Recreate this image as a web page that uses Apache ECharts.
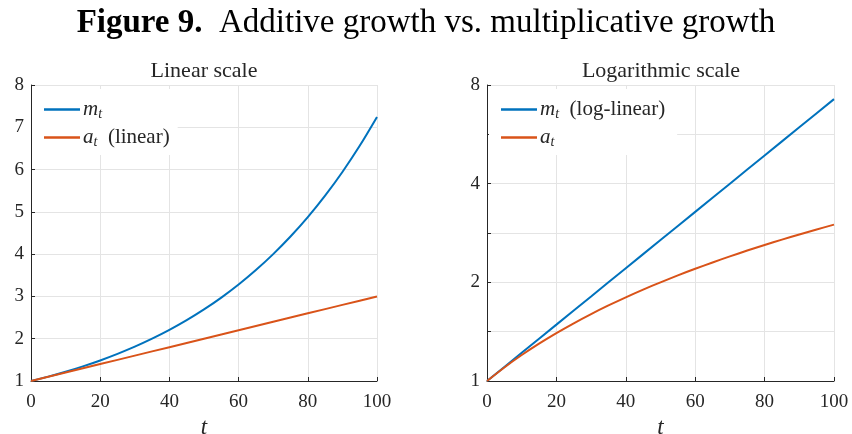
<!DOCTYPE html>
<html><head><meta charset="utf-8">
<script src="https://cdn.jsdelivr.net/npm/echarts@6/dist/echarts.min.js"></script>
<style>html,body{margin:0;padding:0;background:#fff}#c{width:852px;height:434px}</style>
</head><body><div id="c"></div>
<script>
var tValues = [0,5,10,15,20,25,30,35,40,45,50,55,60,65,70,75,80,85,90,95,100];
var mValues = [1,1.104,1.219,1.346,1.486,1.641,1.811,2.000,2.208,2.438,2.692,2.972,3.281,3.623,4.000,4.416,4.875,5.383,5.943,6.562,7.245];
var aValues = [1,1.1,1.2,1.3,1.4,1.5,1.6,1.7,1.8,1.9,2.0,2.1,2.2,2.3,2.4,2.5,2.6,2.7,2.8,2.9,3.0];
var xTicks = [0,20,40,60,80,100];
var yLinTicks = [1,2,3,4,5,6,7,8];
var yLogTicks = [1,2,4,8];

var FONT = 'Liberation Serif';
var TXT = '#262626';
var GRIDC = '#e4e4e4';
var BLUE = '#0072BD', ORANGE = '#D95319';

function pairs(ys){ return tValues.map(function(t,i){return [t, ys[i]];}); }

var rich = {
  i: {fontFamily: FONT, fontStyle: 'italic', fontSize: 21, color: TXT},
  s: {fontFamily: FONT, fontStyle: 'italic', fontSize: 14, color: TXT, padding: [9,0,0,0]},
  n: {fontFamily: FONT, fontSize: 21, color: TXT}
};
function legendFmt(name){
  var map = {
    'm_t': '{i|m}{s|t}',
    'a_t (linear)': '{i|a}{s|t}{n|  (linear)}',
    'm_t (log-linear)': '{i|m}{s|t}{n|  (log-linear)}',
    'a_t': '{i|a}{s|t}'
  };
  return map[name];
}

function xAxis(g){
  return {
    type: 'value', gridIndex: g, min: 0, max: 100, interval: 20,
    name: 't', nameLocation: 'middle', nameGap: 33,
    nameTextStyle: {fontFamily: FONT, fontStyle: 'italic', fontSize: 23, color: TXT},
    axisLine: {show: true, lineStyle: {color: TXT, width: 1}},
    axisTick: {show: true, inside: true, length: 4, lineStyle: {color: TXT}},
    axisLabel: {fontFamily: FONT, fontSize: 19, color: TXT, margin: 12,
      formatter: function(v){ return xTicks.indexOf(v) >= 0 ? String(v) : ''; }},
    splitLine: {show: true, lineStyle: {color: GRIDC, width: 1}}
  };
}

var option = {
  animation: false,
  backgroundColor: '#fff',
  title: [
    {text: '{b|Figure 9.}{r|  Additive growth vs. multiplicative growth}', left: 'center', top: 2,
     textStyle: {fontWeight: 'normal', rich: {
       b: {fontFamily: FONT, fontWeight: 'bold', fontSize: 33, color: '#000'},
       r: {fontFamily: FONT, fontWeight: 'normal', fontSize: 33, color: '#000'}}}},
    {text: 'Linear scale', left: 199, top: 55, textAlign: 'center',
     textStyle: {fontFamily: FONT, fontWeight: 'normal', fontSize: 22, color: TXT}},
    {text: 'Logarithmic scale', left: 656, top: 55, textAlign: 'center',
     textStyle: {fontFamily: FONT, fontWeight: 'normal', fontSize: 22, color: TXT}}
  ],
  grid: [
    {left: 31, right: 475, top: 85, bottom: 53, outerBoundsMode: 'none', containLabel: false},
    {left: 487, right: 18, top: 85, bottom: 53, outerBoundsMode: 'none', containLabel: false}
  ],
  legend: [
    {data: ['m_t','a_t (linear)'], left: 32, top: 89, orient: 'vertical',
     icon: 'rect', itemWidth: 36, itemHeight: 2.5, itemGap: 6, selectedMode: false,
     backgroundColor: '#fff', padding: [10, 8, 6, 12],
     formatter: legendFmt, textStyle: {rich: rich, padding: [0,0,0,-2]}},
    {data: ['m_t (log-linear)','a_t'], left: 489, top: 89, orient: 'vertical',
     icon: 'rect', itemWidth: 36, itemHeight: 2.5, itemGap: 6, selectedMode: false,
     backgroundColor: '#fff', padding: [10, 12, 6, 12],
     formatter: legendFmt, textStyle: {rich: rich, padding: [0,0,0,-2]}}
  ],
  xAxis: [xAxis(0), xAxis(1)],
  yAxis: [
    {type: 'value', gridIndex: 0, min: 1, max: 8, interval: 1,
     axisLine: {show: true, lineStyle: {color: TXT, width: 1}},
     axisTick: {show: true, inside: true, length: 4, lineStyle: {color: TXT}},
     axisLabel: {fontFamily: FONT, fontSize: 19, color: TXT, margin: 7,
       formatter: function(v){ return yLinTicks.indexOf(v) >= 0 ? String(v) : ''; }},
     splitLine: {show: true, lineStyle: {color: GRIDC, width: 1}}},
    {type: 'log', logBase: 2, gridIndex: 1, min: 1, max: 8, interval: 0.5,
     axisLine: {show: true, lineStyle: {color: TXT, width: 1}},
     axisTick: {show: true, inside: true, length: 4, lineStyle: {color: TXT}},
     axisLabel: {fontFamily: FONT, fontSize: 19, color: TXT, margin: 7,
       formatter: function(v){
         var r = Math.round(v);
         return (Math.abs(v - r) < 1e-6 && yLogTicks.indexOf(r) >= 0) ? String(r) : '';
       }},
     splitLine: {show: true, lineStyle: {color: GRIDC, width: 1}}}
  ],
  series: [
    {name: 'm_t', type: 'line', xAxisIndex: 0, yAxisIndex: 0, data: pairs(mValues), showSymbol: false, smooth: 0.3,
     lineStyle: {color: BLUE, width: 2}, itemStyle: {color: BLUE}, z: 3},
    {name: 'a_t (linear)', type: 'line', xAxisIndex: 0, yAxisIndex: 0, data: pairs(aValues), showSymbol: false,
     lineStyle: {color: ORANGE, width: 2}, itemStyle: {color: ORANGE}, z: 3},
    {name: 'm_t (log-linear)', type: 'line', xAxisIndex: 1, yAxisIndex: 1, data: pairs(mValues), showSymbol: false,
     lineStyle: {color: BLUE, width: 2}, itemStyle: {color: BLUE}, z: 3},
    {name: 'a_t', type: 'line', xAxisIndex: 1, yAxisIndex: 1, data: pairs(aValues), showSymbol: false, smooth: 0.3,
     lineStyle: {color: ORANGE, width: 2}, itemStyle: {color: ORANGE}, z: 3}
  ]
};
var chart = echarts.init(document.getElementById('c'), null, {renderer: 'canvas'});
chart.setOption(option);
</script></body></html>
